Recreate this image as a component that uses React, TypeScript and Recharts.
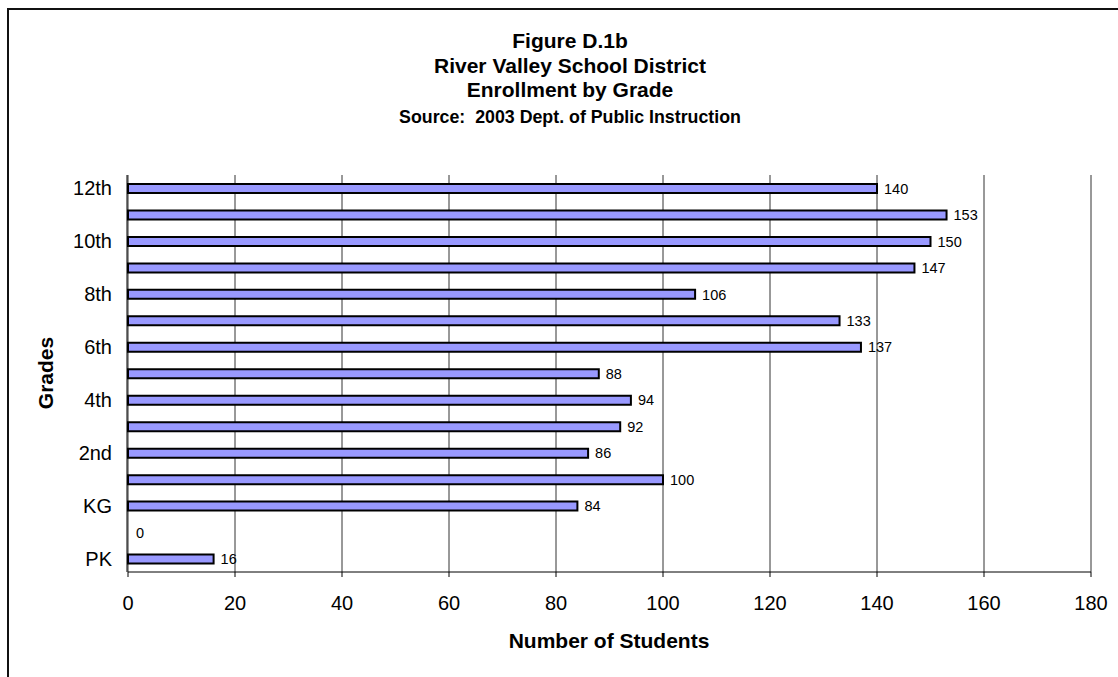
import { BarChart, Bar, XAxis, YAxis, CartesianGrid, LabelList } from 'recharts'

// top to bottom, like the original
const grades = ['12th', '11th', '10th', '9th', '8th', '7th', '6th', '5th', '4th', '3rd', '2nd', '1st', 'KG', 'K4', 'PK']
const students = [140, 153, 150, 147, 106, 133, 137, 88, 94, 92, 86, 100, 84, 0, 16]
const xTicks = [0, 20, 40, 60, 80, 100, 120, 140, 160, 180]

const titleLines = ['Figure D.1b', 'River Valley School District', 'Enrollment by Grade']
const sourceLine = 'Source:  2003 Dept. of Public Instruction'

const font = '"Liberation Sans", Arial, sans-serif'

export default function App() {
  const data = grades.map((grade, i) => ({ grade, students: students[i] }))
  // ticks on the band edges of the grade axis
  const edgeTicks = grades.map((_, i) => i).concat(grades.length)

  return (
    <div style={{ position: 'absolute', left: 0, top: 0, width: 1118, height: 677, overflow: 'hidden', background: '#fff', fontFamily: font }}>
      <div style={{ position: 'absolute', left: 7, top: 8, width: 1300, height: 900, borderLeft: '2px solid #111', borderTop: '2px solid #111' }} />
      <BarChart
        width={1118}
        height={677}
        data={data}
        layout="vertical"
        margin={{ top: 175, right: 27, bottom: 65, left: 126 }}
        barSize={9}
      >
        <CartesianGrid horizontal={false} stroke="#333" />
        <XAxis
          type="number"
          domain={[0, 180]}
          ticks={xTicks}
          height={40}
          stroke="#000"
          tickSize={5}
          tickMargin={19}
          tick={{ fill: '#000', fontSize: 20, fontFamily: font }}
        />
        <YAxis
          yAxisId="edge"
          type="number"
          domain={[0, grades.length]}
          ticks={edgeTicks}
          allowDataOverflow
          width={1}
          tick={false}
          tickSize={6}
          stroke="#000"
        />
        <YAxis
          type="category"
          dataKey="grade"
          width={1}
          interval={1}
          tickLine={false}
          axisLine={false}
          tickSize={6}
          tickMargin={10}
          tick={{ fill: '#000', fontSize: 20, fontFamily: font }}
        />
        <YAxis yAxisId="lab" type="category" dataKey="grade" hide />
        <Bar dataKey="students" fill="#9999FF" stroke="#000" strokeWidth={2} isAnimationActive={false} />
        <Bar
          yAxisId="lab"
          dataKey="students"
          fill="none"
          stroke="none"
          minPointSize={1}
          isAnimationActive={false}
        >
          <LabelList dataKey="students" position="right" offset={7} fill="#000" fontSize={14.5} fontFamily={font} />
        </Bar>
      </BarChart>
      <svg width={1118} height={677} style={{ position: 'absolute', left: 0, top: 0, pointerEvents: 'none' }}>
        <g fontFamily={font} fontWeight="bold" fill="#000" textAnchor="middle">
          {titleLines.map((t, i) => (
            <text key={t} x={570} y={48 + i * 24.5} fontSize={21}>{t}</text>
          ))}
          <text x={570} y={123} fontSize={17.8} style={{ whiteSpace: 'pre' }}>{sourceLine}</text>
          <text x={609} y={648} fontSize={21}>Number of Students</text>
          <text transform="translate(53,373) rotate(-90)" fontSize={21}>Grades</text>
        </g>
      </svg>
    </div>
  )
}
